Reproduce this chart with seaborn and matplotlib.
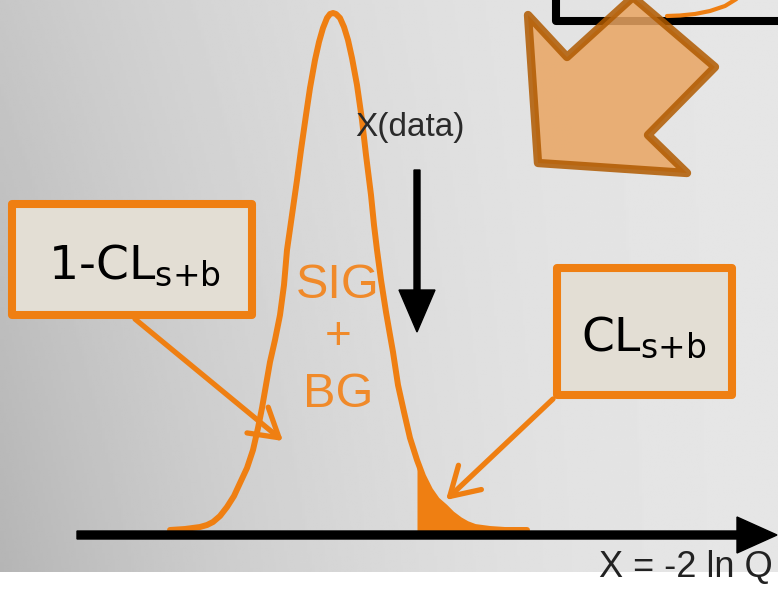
import numpy as np
import matplotlib
matplotlib.use("Agg")
from matplotlib import pyplot as plt
from matplotlib import patches
import seaborn as sns

# curve of the SIG+BG distribution (pixel units, y downwards)
curve_x = [170, 185, 200, 207, 213, 220, 227, 234, 240, 247, 253, 258, 262, 266, 270,
           275, 280, 284, 287, 292, 297, 301, 306, 310, 315, 319, 323, 327, 330, 333,
           336, 340, 344, 348, 352, 357, 362, 366, 371, 374, 377, 381, 386, 390, 393,
           398, 404, 410, 417, 423, 430, 437, 445, 452, 460, 467, 475, 490, 505, 527]
curve_y = [530, 529, 527, 525, 522, 516, 507, 496, 483, 468, 450, 428, 408, 385, 362,
           340, 315, 285, 250, 215, 180, 150, 115, 88, 60, 42, 28, 18, 14, 13,
           14, 18, 27, 40, 58, 85, 120, 155, 195, 225, 250, 280, 312, 335, 352,
           385, 412, 438, 460, 476, 490, 500, 507, 514, 520, 524, 527, 529, 530, 530]
x_data = 417          # observed value, tail beyond it is CL_s+b
baseline = 531

orange = '#EF7F12'
text_orange = '#F08A2A'
box_fill = '#E3DED4'

sns.set_theme(style='white')
plt.rcParams['font.family'] = ['Liberation Sans', 'DejaVu Sans']

fig = plt.figure(figsize=(7.78, 5.90), dpi=100)
ax = fig.add_axes([0, 0, 1, 1])
ax.set_xlim(0, 778)
ax.set_ylim(590, 0)
ax.axis('off')
fig.patch.set_facecolor('white')

# grey gradient backdrop
gx, gy = np.meshgrid(np.linspace(0, 1, 300), np.linspace(0, 1, 200))
shade = 0.78 + 0.12 * (1 - (1 - gx) ** 2) - 0.07 * gy * (1 - gx) ** 2
ax.imshow(shade, cmap='gray', vmin=0, vmax=1, extent=[0, 778, 572, 0],
          aspect='auto', zorder=0)

# distribution curve + filled tail
sns.lineplot(x=curve_x, y=curve_y, sort=False, estimator=None, ax=ax,
             color=orange, linewidth=4.3, zorder=3)
ax.lines[-1].set_solid_joinstyle('round')
cx = np.array(curve_x)
cy = np.array(curve_y)
tail = cx >= x_data
ax.fill_between(cx[tail], cy[tail], baseline, color=orange, lw=0, zorder=3)

# horizontal axis arrow
ax.arrow(77, 535, 700, 0, width=8, head_width=36, head_length=40,
         length_includes_head=True, color='black', zorder=4)
ax.text(773, 577, 'X = -2 ln Q', ha='right', va='baseline', fontsize=26,
        color='#222222', zorder=5)

# X(data) marker
ax.text(410, 136, 'X(data)', ha='center', va='baseline', fontsize=24,
        color='#2a2a2a', zorder=5)
ax.arrow(417, 170, 0, 162, width=6, head_width=36, head_length=42,
         length_includes_head=True, color='black', zorder=4)

# SIG + BG label
ax.text(338, 298, 'SIG', ha='center', va='baseline', fontsize=35, color=text_orange, zorder=5)
ax.text(338, 337, '+', ha='center', va='center', fontsize=33, color=text_orange, zorder=5)
ax.text(338, 407, 'BG', ha='center', va='baseline', fontsize=35, color=text_orange, zorder=5)

# callout boxes
for (x0, y0, w, h) in [(12, 204, 240, 111), (557, 268, 175, 127)]:
    ax.add_patch(patches.Rectangle((x0, y0), w, h, facecolor=box_fill,
                                   edgecolor=orange, linewidth=5.8,
                                   joinstyle='round', zorder=6))
ax.text(134, 279, r'1-CL$_\mathregular{s{+}b}$', ha='center', va='baseline',
        fontsize=34, family='DejaVu Sans', color='black', zorder=7)
ax.text(644, 350, r'CL$_\mathregular{s{+}b}$', ha='center', va='baseline',
        fontsize=34, family='DejaVu Sans', color='black', zorder=7)

arrow_kw = dict(arrowstyle='->,head_length=1.0,head_width=0.6', color=orange,
                lw=3.8, shrinkA=0, shrinkB=0, mutation_scale=20)
ax.annotate('', xy=(283, 441), xytext=(135, 319), arrowprops=arrow_kw, zorder=6)
ax.annotate('', xy=(446, 500), xytext=(553, 399), arrowprops=arrow_kw, zorder=6)

# top-right corner: partial frame, orange arc and big arrow
ax.plot([556, 556, 780], [-5, 21, 21], color='black', lw=5.8, zorder=2)
ax.plot([738, 725, 710, 695, 680, 667], [-2, 6, 11, 14, 15.5, 16], color=orange, lw=3, zorder=2)
big_arrow = [(528, 15), (567, 57), (633, -3), (715, 67), (648, 135), (687, 173), (538, 163)]
ax.add_patch(patches.Polygon(big_arrow, closed=True, facecolor='#E9A562', alpha=0.85,
                             edgecolor='#B05A00', linewidth=6, joinstyle='round', zorder=8))

fig.savefig('out.png', dpi=100)
